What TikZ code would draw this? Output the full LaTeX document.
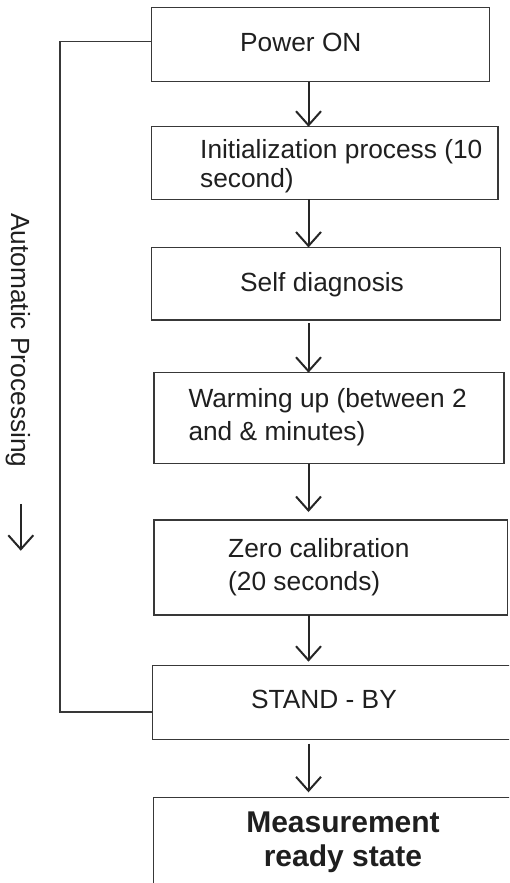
\documentclass[tikz,border=0pt]{standalone}
\usepackage{fontspec}
\setmainfont{Liberation Sans}
\usetikzlibrary{positioning, arrows.meta}

\begin{document}
\begin{tikzpicture}[x=1pt, y=-1pt,
    stepbox/.style={draw=black!78, line width=1.3pt, inner sep=0pt, outer sep=0pt, anchor=north west},
    steptext/.style={anchor=base west, inner sep=0pt, align=left, text=black!88, font=\fontsize{26.3}{33}\selectfont},
    flow/.style={draw=black!85, line width=2pt, -{Straight Barb[length=14pt, width=25pt]}},
    loop/.style={draw=black!78, line width=1.2pt}]
  \clip (0,0) rectangle (509,883);

  % the boxes, left edges lined up
  \node[stepbox, minimum width=337.6pt, minimum height=74.4pt] (pwr) at (151.7,7.3) {};
  \node[stepbox, minimum width=346.3pt, minimum height=72.6pt] (init) at (151.7,126.7) {};
  \node[stepbox, minimum width=349pt, minimum height=72.5pt] (diag) at (151.7,247.5) {};
  \node[stepbox, minimum width=350pt, minimum height=90.8pt] (warm) at (154,372.7) {};
  \node[stepbox, minimum width=353.7pt, minimum height=95pt] (zero) at (154,520) {};
  \node[stepbox, minimum width=370pt, minimum height=73.8pt] (stby) at (152.3,665.7) {};
  \node[stepbox, minimum width=370pt, minimum height=120pt] (meas) at (153.3,797.3) {};

  % box texts (two-line ones sit on their last line)
  \node[steptext] (pwrtxt) at (240,51.7) {Power ON};
  \node[steptext] (inittxt) at (200,187) {Initialization process (10\\[-4pt]second)};
  \node[steptext] (diagtxt) at (240,291.7) {Self diagnosis};
  \node[steptext] (warmtxt) at (188.3,440) {Warming up (between 2\\and \& minutes)};
  \node[steptext] (zerotxt) at (228,590) {Zero calibration\\(20 seconds)};
  \node[steptext] (stbytxt) at (251,708.3) {STAND - BY};
  \node[steptext, anchor=base, align=center, font=\bfseries\fontsize{30}{34.4}\selectfont] (meastxt) at (343,866.7) {Measurement\\ready state};

  % arrows down the middle
  \coordinate (spine) at (308.5,0);
  \draw[flow] (pwr.south -| spine) -- (init.north -| spine);
  \draw[flow] (init.south -| spine) -- (diag.north -| spine);
  \draw[flow, shorten <=3pt] (diag.south -| spine) -- (warm.north -| spine);
  \draw[flow, shorten >=8pt] (warm.south -| spine) -- (zero.north -| spine);
  \draw[flow, shorten >=4pt] (zero.south -| spine) -- (stby.north -| spine);
  \draw[flow, shorten <=4pt, shorten >=5pt] (stby.south -| spine) -- (meas.north -| spine);

  % automatic part, power on to stand-by
  \draw[loop] ([yshift=2.8pt]pwr.west) -- ++(-91.7,0) |- ([yshift=-9.4pt]stby.west);
  \node[steptext, rotate=-90] (auto) at (11,213) {Automatic Processing};
  \draw[flow] ([xshift=3pt, yshift=-36pt]auto.east) -- ++(0,47);
\end{tikzpicture}
\end{document}
